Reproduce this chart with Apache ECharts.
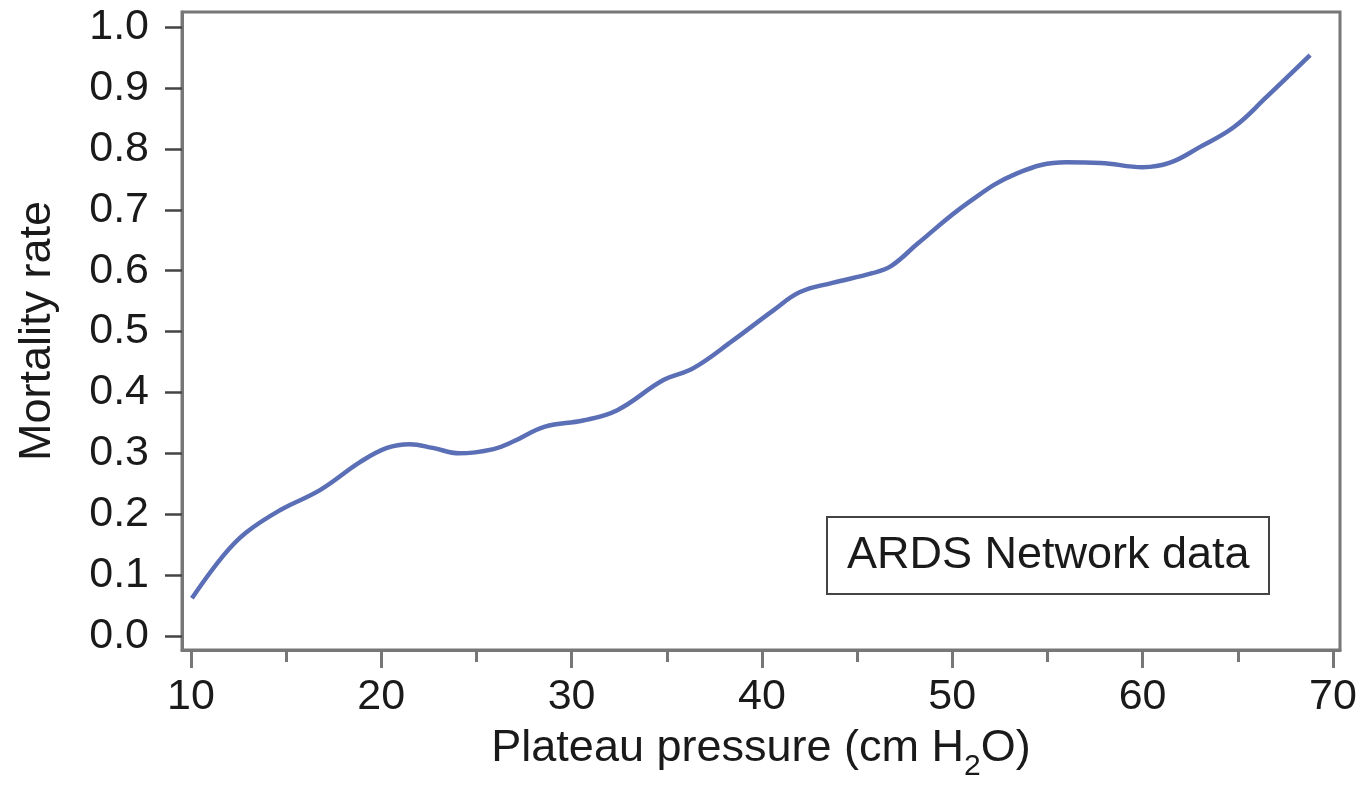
<!DOCTYPE html>
<html>
<head>
<meta charset="utf-8">
<script src="https://cdn.jsdelivr.net/npm/echarts@6/dist/echarts.min.js"></script>
<style>
  html, body { margin: 0; padding: 0; background: #fff; }
  #chart { width: 1366px; height: 789px; }
</style>
</head>
<body>
<div id="chart"></div>
<script>
// Plateau pressure (cm H2O)
const pressure = [10.05, 11.7, 12.9, 14.7, 16.8, 18.9, 20.3, 21.5, 22.7, 24.1, 25.9, 26.9, 28.6, 30.6, 32.4, 34.8, 36.4, 38.5, 40.6, 42.0, 43.7, 45.8, 46.8, 48.2, 50.8, 53.4, 56.0, 57.8, 60.0, 61.4, 63.0, 64.8, 66.5, 68.8];
// Mortality rate
const mortality = [0.062, 0.132, 0.170, 0.207, 0.240, 0.286, 0.309, 0.315, 0.309, 0.300, 0.307, 0.319, 0.344, 0.354, 0.371, 0.420, 0.440, 0.486, 0.535, 0.565, 0.580, 0.596, 0.608, 0.645, 0.711, 0.760, 0.778, 0.777, 0.770, 0.777, 0.803, 0.836, 0.885, 0.954];
const xMajorTicks = [10, 20, 30, 40, 50, 60, 70];
const xMinorTicks = [15, 25, 35, 45, 55, 65];
const yTicks = [0, 0.1, 0.2, 0.3, 0.4, 0.5, 0.6, 0.7, 0.8, 0.9, 1.0];
const legendText = 'ARDS Network data';

const FONT = '"Liberation Sans", Arial, Helvetica, sans-serif';
const chart = echarts.init(document.getElementById('chart'), null, { renderer: 'canvas' });

const seriesData = pressure.map((x, i) => [x, mortality[i]]);

chart.setOption({
  backgroundColor: '#fff',
  animation: false,
  title: {
    text: legendText,
    left: 827,
    top: 517,
    padding: [16, 20],
    borderColor: '#444',
    borderWidth: 2,
    textStyle: { fontSize: 45, lineHeight: 45, fontWeight: 'normal', color: '#1a1a1a', fontFamily: FONT }
  },
  grid: {
    left: 182, right: 26, top: 12, bottom: 139,
    show: true, borderColor: '#777', borderWidth: 3, backgroundColor: 'transparent'
  },
  xAxis: [{
    type: 'value',
    min: 9.53, max: 70.37,
    position: 'bottom',
    axisLine: { show: true, onZero: false, lineStyle: { color: '#777', width: 3 } },
    axisTick: { show: true, customValues: xMajorTicks, length: 18, lineStyle: { color: '#777', width: 3 } },
    axisLabel: { customValues: xMajorTicks, margin: 26, fontSize: 43, color: '#1a1a1a', fontFamily: FONT },
    splitLine: { show: false },
    name: '{a|Plateau pressure (cm H}{s|2}{a|O)}',
    nameLocation: 'middle',
    nameGap: 76,
    nameTextStyle: {
      rich: {
        a: { fontSize: 45, fontFamily: FONT, color: '#1a1a1a', lineHeight: 56, verticalAlign: 'top' },
        s: { fontSize: 30, fontFamily: FONT, color: '#1a1a1a', lineHeight: 56, verticalAlign: 'bottom' }
      }
    }
  }, {
    type: 'value',
    min: 9.53, max: 70.37,
    position: 'bottom',
    axisLine: { show: false, onZero: false },
    axisTick: { show: true, customValues: xMinorTicks, length: 12, lineStyle: { color: '#777', width: 3 } },
    axisLabel: { show: false },
    splitLine: { show: false }
  }],
  yAxis: {
    type: 'value',
    min: -0.023, max: 1.025,
    axisLine: { show: true, onZero: false, lineStyle: { color: '#777', width: 3 } },
    axisTick: { show: true, customValues: yTicks, length: 17, lineStyle: { color: '#444', width: 2.5 } },
    axisLabel: {
      customValues: yTicks, margin: 33, fontSize: 43, color: '#1a1a1a', fontFamily: FONT,
      formatter: v => v.toFixed(1)
    },
    splitLine: { show: false },
    name: 'Mortality rate',
    nameLocation: 'middle',
    nameGap: 122,
    nameTextStyle: { fontSize: 45, color: '#1a1a1a', fontFamily: FONT }
  },
  series: [{
    type: 'line',
    xAxisIndex: 0,
    data: seriesData,
    smooth: 0.4,
    showSymbol: false,
    lineStyle: { color: '#5b6fb6', width: 4.5 }
  }]
});
</script>
</body>
</html>
